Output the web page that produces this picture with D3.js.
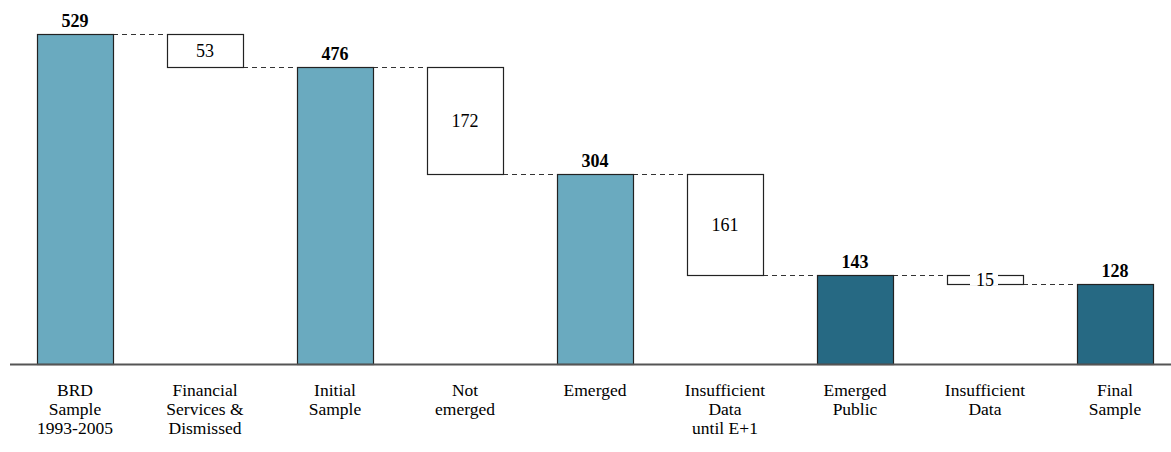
<!DOCTYPE html>
<html>
<head>
<meta charset="utf-8">
<script src="https://cdn.jsdelivr.net/npm/d3@7/dist/d3.min.js"></script>
<style>
  html, body { margin: 0; padding: 0; background: #fff; }
  svg { display: block; }
</style>
</head>
<body>
<svg id="chart" width="1171" height="452"></svg>
<script>
// Sample construction steps (waterfall)
const categories = [
  ["BRD", "Sample", "1993-2005"],
  ["Financial", "Services &", "Dismissed"],
  ["Initial", "Sample"],
  ["Not", "emerged"],
  ["Emerged"],
  ["Insufficient", "Data", "until E+1"],
  ["Emerged", "Public"],
  ["Insufficient", "Data"],
  ["Final", "Sample"]
];
const values = [529, -53, 476, -172, 304, -161, 143, -15, 128];
const kinds = ["total", "step", "total", "step", "total", "step", "final", "step", "final"];

const svg = d3.select("#chart");
const W = 1171, H = 452;
const FONT = "'Times New Roman', 'Liberation Serif', Tinos, 'DejaVu Serif', serif";

const keys = categories.map((c, i) => i);
const x = d3.scaleBand().domain(keys).range([10, 1180]).paddingInner(0.4154).paddingOuter(0.2077);
const y = d3.scaleLinear().domain([0, 529]).range([364, 34]);

// Build bar extents: totals rise from zero, steps hang from the running level
let level = 0;
const bars = values.map((v, i) => {
  let lo, hi;
  if (kinds[i] === "step") { hi = level; lo = level + v; level = lo; }
  else { lo = 0; hi = v; level = v; }
  return { i, v, lo, hi, kind: kinds[i] };
});

const fills = { total: "#6aaabf", final: "#266983", step: "#ffffff" };

// dashed connectors between consecutive bars
const conn = svg.append("g");
for (let k = 0; k < bars.length - 1; k++) {
  const a = bars[k], b = bars[k + 1];
  const lvl = a.kind === "step" ? a.lo : a.hi;
  conn.append("line")
    .attr("x1", x(a.i) + x.bandwidth()).attr("x2", x(b.i))
    .attr("y1", Math.round(y(lvl)) + 0.5).attr("y2", Math.round(y(lvl)) + 0.5)
    .attr("stroke", "#333").attr("stroke-width", 1.1)
    .attr("stroke-dasharray", "5,4");
}

// bars
svg.append("g").selectAll("rect").data(bars).join("rect")
  .attr("x", d => Math.round(x(d.i)) + 0.5)
  .attr("y", d => Math.round(y(d.hi)) + 0.5)
  .attr("width", Math.round(x.bandwidth()))
  .attr("height", d => Math.round(y(d.lo)) - Math.round(y(d.hi)))
  .attr("fill", d => fills[d.kind])
  .attr("stroke", "#222").attr("stroke-width", 1.2);

// value labels: bold above totals, centered in step boxes
const lab = svg.append("g");
bars.forEach(d => {
  const cx = x(d.i) + x.bandwidth() / 2;
  if (d.kind === "step") {
    const cy = (y(d.hi) + y(d.lo)) / 2;
    const t = lab.append("text")
      .attr("x", cx).attr("y", cy).attr("dy", "0.35em")
      .attr("text-anchor", "middle").attr("font-size", 18)
      .style("font-family", FONT)
      .text(Math.abs(d.v));
    // thin boxes: the label sits on a white patch that breaks the outline
    if (y(d.lo) - y(d.hi) < 16) {
      const bb = t.node().getBBox();
      lab.insert("rect", () => t.node())
        .attr("x", bb.x - 6).attr("y", cy - 6).attr("width", bb.width + 10).attr("height", 12)
        .attr("fill", "#fff");
    }
  } else {
    lab.append("text")
      .attr("x", cx).attr("y", y(d.hi) - 7)
      .attr("text-anchor", "middle").attr("font-size", 18).attr("font-weight", "bold")
      .style("font-family", FONT)
      .text(d.v);
  }
});

// baseline axis
svg.append("line")
  .attr("x1", 10).attr("x2", W).attr("y1", 364.5).attr("y2", 364.5)
  .attr("stroke", "#555").attr("stroke-width", 2);

// category labels
const cat = svg.append("g");
categories.forEach((lines, i) => {
  const t = cat.append("text")
    .attr("x", x(i) + x.bandwidth() / 2).attr("y", 396)
    .attr("text-anchor", "middle").attr("font-size", 17.5)
    .style("font-family", FONT);
  lines.forEach((ln, j) => {
    t.append("tspan").attr("x", x(i) + x.bandwidth() / 2).attr("dy", j === 0 ? 0 : 19).text(ln);
  });
});
</script>
</body>
</html>
